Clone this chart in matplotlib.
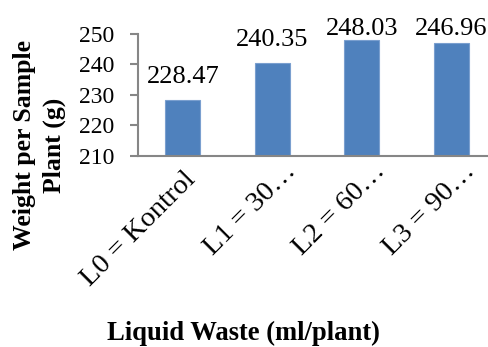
import matplotlib
matplotlib.use("Agg")
import matplotlib.pyplot as plt

# Plant weight per liquid waste treatment
categories = ["L0 = Kontrol", "L1 = 30\u2026", "L2 = 60\u2026", "L3 = 90\u2026"]
weights = [228.47, 240.35, 248.03, 246.96]
y_ticks = [210, 220, 230, 240, 250]

plt.rcParams['font.family'] = ['Liberation Serif', 'DejaVu Serif']

fig = plt.figure(figsize=(4.88, 3.47), dpi=100)
ax = fig.add_axes([138 / 488, 191 / 347, 358 / 488, 122 / 347])

x = range(len(categories))
ax.bar(x, weights, width=0.39, color='#4F81BD', edgecolor='#7A9FCF', linewidth=0.8)

ax.set_xlim(-0.5, len(categories) - 0.5)
ax.set_ylim(210, 250)
ax.set_yticks(y_ticks)
ax.set_yticklabels([str(t) for t in y_ticks], fontsize=17)
ax.set_xticks(list(x))
ax.set_xticklabels([])

# category labels at 45 degrees; the truncated ones sit a bit further up and right
for i, cat in enumerate(categories):
    off = (0, -8) if i == 0 else (8, -2)
    ax.annotate(cat, xy=(i, 0), xycoords=ax.get_xaxis_transform(),
                xytext=off, textcoords='offset points', fontsize=20.5,
                rotation=45, ha='right', va='top', rotation_mode='anchor')

# value labels sit above bars, kept inside the plot area at the top
for i, v in enumerate(weights):
    ax.text(i, min(v + 5.6, 249.7), f'{v:.2f}', ha='center', va='baseline',
            fontsize=19, clip_on=False)

for side in ['top', 'right']:
    ax.spines[side].set_visible(False)
for side in ['left', 'bottom']:
    ax.spines[side].set_color('#868686')
    ax.spines[side].set_linewidth(1.5)
ax.tick_params(axis='y', length=6, width=1.5, color='#868686', pad=11)
ax.tick_params(axis='x', length=0)

fig.text(39.5 / 488, 1 - 145 / 347, 'Weight per Sample\nPlant (g)', rotation=90,
         ha='center', va='center', fontsize=18.5, fontweight='bold', linespacing=1.35)
fig.text(243 / 488, 1 - 333 / 347, 'Liquid Waste (ml/plant)', ha='center', va='center',
         fontsize=19.2, fontweight='bold')

fig.savefig('out.png', dpi=100)
